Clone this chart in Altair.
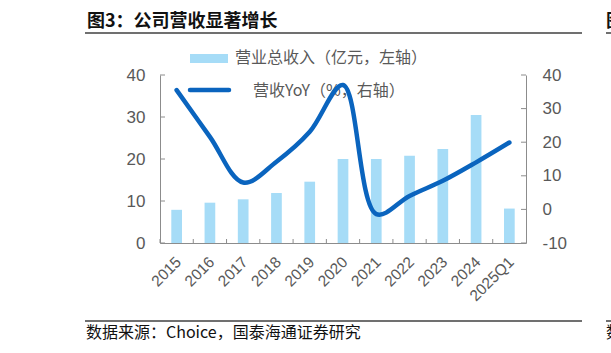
import altair as alt
import pandas as pd

years = ["2015", "2016", "2017", "2018", "2019", "2020", "2021", "2022", "2023", "2024", "2025Q1"]
revenue = [7.9, 9.6, 10.4, 11.9, 14.6, 20.0, 20.0, 20.8, 22.4, 30.5, 8.2]
yoy = [35.5, 21.6, 8.0, 14.2, 23.1, 37.0, -1.4, 4.0, 8.5, 14.0, 19.9]
left_ticks = [0, 10, 20, 30, 40]
right_ticks = [-10, 0, 10, 20, 30, 40]

title_text = "图3：公司营收显著增长"
source_text = "数据来源：Choice，国泰海通证券研究"
bar_name = "营业总收入（亿元，左轴）"
line_name = "营收YoY（%，右轴）"

df = pd.DataFrame({"year": years, "revenue": revenue, "yoy": yoy})
lt = pd.DataFrame({"v": left_ticks})
rt = pd.DataFrame({"v": right_ticks})

W, H = 366, 168
AXIS_GRAY = "#8c8c8c"
LABEL_GRAY = "#595959"
BAR = "#a6dcf7"
LINE = "#0a64be"
NUM_FONT = "Liberation Sans"
CJK = "Noto Sans CJK SC"

def one(t):
    return alt.Chart(pd.DataFrame({"t": [t]}))

xscale = alt.Scale(domain=years, paddingInner=0, paddingOuter=0)
xaxis = alt.Axis(title=None, labelAngle=-45, labelAlign="right",
                 labelBaseline="middle", labelFontSize=15.5,
                 labelColor=LABEL_GRAY, labelFont=NUM_FONT, ticks=False,
                 domainColor=AXIS_GRAY, labelPadding=16, labelOffset=2,
                 grid=False)
lscale = alt.Scale(domain=[0, 40], nice=False)
laxis = alt.Axis(values=left_ticks, title=None, ticks=False, grid=False,
                 domainColor=AXIS_GRAY, labelFontSize=17,
                 labelColor=LABEL_GRAY, labelFont=NUM_FONT, labelPadding=15)
rscale = alt.Scale(domain=[-10, 40], nice=False)
raxis = alt.Axis(orient="right", values=right_ticks, title=None, ticks=False,
                 grid=False, domainColor=AXIS_GRAY, labelFontSize=17,
                 labelColor=LABEL_GRAY, labelFont=NUM_FONT, labelPadding=16,
                 labelExpr="'' + datum.value")

bars = alt.Chart(df).mark_bar(color=BAR, size=10.7).encode(
    x=alt.X("year:N", sort=years, scale=xscale, axis=xaxis),
    y=alt.Y("revenue:Q", scale=lscale, axis=laxis),
)

left_tick_marks = alt.Chart(lt).mark_rule(color=AXIS_GRAY).encode(
    y=alt.Y("v:Q", scale=lscale, axis=laxis), x=alt.value(0), x2=alt.value(5))

x_tick_marks = alt.Chart(df).mark_rule(color=AXIS_GRAY).encode(
    x=alt.X("year:N", sort=years, scale=xscale, bandPosition=0, axis=xaxis),
    y=alt.value(H - 4), y2=alt.value(H))

title = one(title_text).mark_text(font=CJK, fontSize=18, fontWeight="bold",
                                  align="left", baseline="middle", color="#111111").encode(
    text="t:N", x=alt.value(-73), y=alt.value(-53))
title_rule = one("r").mark_rule(color="#404040", strokeWidth=1.5).encode(
    x=alt.value(-75), x2=alt.value(422), y=alt.value(-42))
src_rule = one("r").mark_rule(color="#404040", strokeWidth=1.5).encode(
    x=alt.value(-75), x2=alt.value(422), y=alt.value(246))
source = one(source_text).mark_text(font=CJK, fontSize=16, align="left",
                                    baseline="middle", color="#111111").encode(
    text="t:N", x=alt.value(-74), y=alt.value(258))

side_title = one("图").mark_text(font=CJK, fontSize=18, fontWeight="bold", align="left",
                                  baseline="middle", color="#111111").encode(
    text="t:N", x=alt.value(446), y=alt.value(-53))
side_rule1 = one("r").mark_rule(color="#404040", strokeWidth=1.5).encode(
    x=alt.value(446), x2=alt.value(460), y=alt.value(-42))
side_rule2 = one("r").mark_rule(color="#404040", strokeWidth=1.5).encode(
    x=alt.value(446), x2=alt.value(460), y=alt.value(246))
side_src = one("数").mark_text(font=CJK, fontSize=16, align="left",
                                baseline="middle", color="#111111").encode(
    text="t:N", x=alt.value(446), y=alt.value(258))

leg_rect = one("r").mark_rect(color=BAR).encode(
    x=alt.value(30), x2=alt.value(68), y=alt.value(-21), y2=alt.value(-12))
leg_bar_text = one(bar_name).mark_text(font=CJK, fontSize=16, align="left",
                                       baseline="middle", color=LABEL_GRAY).encode(
    text="t:N", x=alt.value(75), y=alt.value(-17))
leg_line = one("r").mark_rule(color=LINE, strokeWidth=4.5, strokeCap="round").encode(
    x=alt.value(30), x2=alt.value(69), y=alt.value(15))
leg_line_text = one(line_name).mark_text(font=CJK, fontSize=16, align="left",
                                         baseline="middle", color=LABEL_GRAY).encode(
    text="t:N", x=alt.value(93), y=alt.value(16))

left = alt.layer(bars, left_tick_marks, x_tick_marks, title, title_rule, src_rule,
                 source, side_title, side_rule1, side_rule2, side_src,
                 leg_rect, leg_bar_text, leg_line, leg_line_text)

line = alt.Chart(df).mark_line(color=LINE, strokeWidth=4.5, interpolate="catmull-rom",
                               strokeCap="round").encode(
    x=alt.X("year:N", sort=years, scale=xscale, axis=xaxis),
    y=alt.Y("yoy:Q", scale=rscale, axis=raxis),
)
right_tick_marks = alt.Chart(rt).mark_rule(color=AXIS_GRAY).encode(
    y=alt.Y("v:Q", scale=rscale, axis=raxis), x=alt.value(W - 5), x2=alt.value(W))

right = alt.layer(right_tick_marks, line)

chart = alt.layer(left, right).resolve_scale(y="independent").properties(
    width=W, height=H,
    padding={"left": 160, "top": 75, "right": 85, "bottom": 110},
    autosize=alt.AutoSizeParams(type="none"),
    background="white",
).configure_view(stroke=None)

chart.save("out.html", embed_options={"renderer": "svg", "actions": False})
